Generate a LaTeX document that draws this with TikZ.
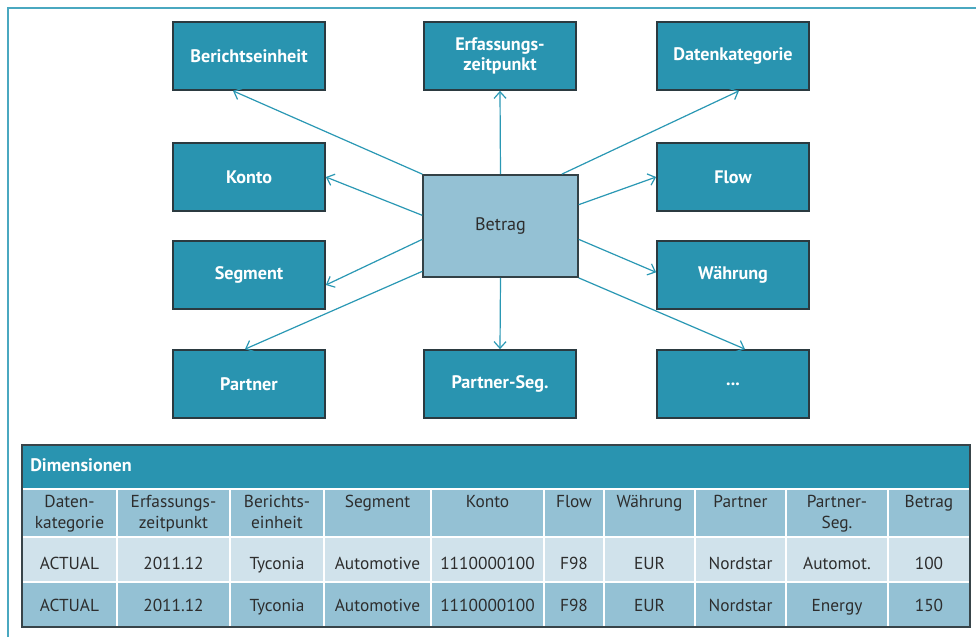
\documentclass[tikz,border=0pt]{standalone}
\usepackage{fontspec}
\setmainfont{PT Sans}
\usetikzlibrary{arrows.meta}
\definecolor{dteal}{HTML}{2994B0}
\definecolor{lteal}{HTML}{94C1D4}
\definecolor{pteal}{HTML}{D0E2EB}
\definecolor{framec}{HTML}{4AA8C0}
\definecolor{edgec}{HTML}{2B3A40}
\definecolor{txt}{HTML}{2D2D2D}
\definecolor{conc}{HTML}{2A98B4}
\begin{document}
\begin{tikzpicture}[x=0.75pt,y=-0.75pt,
  dimbox/.style={draw=edgec, line width=1.3pt, fill=dteal, text=white,
    font=\fontsize{13.6}{15.5}\selectfont\bfseries, minimum width=114pt,
    minimum height=51pt, inner sep=0pt, align=center},
  betragbox/.style={draw=edgec!90!gray, line width=1.3pt, fill=lteal, text=txt,
    font=\fontsize{13.6}{15.5}\selectfont, minimum width=116pt,
    minimum height=76.5pt, inner sep=0pt},
  conn/.style={draw=conc, line width=0.9pt, -{Straight Barb[length=5pt,width=9pt,line width=0.9pt]}},
  cell/.style={draw=white, line width=1.5pt},
  ctext/.style={text=txt, font=\fontsize{13}{15.5}\selectfont, align=center, inner sep=0pt},
]
\useasboundingbox (0,0) rectangle (976,637);
\fill[white] (0,0) rectangle (976,637);
% outer frame
\draw[framec, line width=1.6pt] (8,637) -- (8,8) -- (976,8);

% dimension boxes
\node[dimbox] (bericht) at (249,56) {Berichtseinheit};
\node[dimbox] (erf) at (500,56) {Erfassungs-\\[-1pt]zeitpunkt};
\node[dimbox] (daten) at (733,56) {Datenkategorie};
\node[dimbox] (konto) at (249,177) {Konto};
\node[dimbox] (flow) at (733,177) {Flow};
\node[dimbox] (segment) at (249,275) {Segment};
\node[dimbox] (waehr) at (733,275) {Währung};
\node[dimbox] (partner) at (249,384) {Partner};
\node[dimbox] (pseg) at (500,384) {Partner-Seg.};
\node[dimbox] (dots) at (733,384) {...};
\node[betragbox] (betrag) at (500.5,226) {Betrag};

% connectors
\draw[conn] (betrag.north west) -- ([xshift=-12pt]bericht.south);
\draw[conn] (betrag.north) -- (erf.south);
\draw[conn] ([xshift=46pt]betrag.north) -- ([xshift=4.5pt]daten.south);
\draw[conn] ([yshift=8pt]betrag.west) -- (konto.east);
\draw[conn] ([yshift=16pt]betrag.east) -- (flow.west);
\draw[conn] ([yshift=-10pt]betrag.west) -- ([yshift=-7.5pt]segment.east);
\draw[conn] ([yshift=-10pt]betrag.east) -- ([yshift=2pt]waehr.west);
\draw[conn] ([yshift=-34pt]betrag.west) -- ([xshift=-3pt]partner.north);
\draw[conn] (betrag.south) -- (pseg.north);
\draw[conn] (betrag.south east) -- ([xshift=9pt]dots.north);

% table
\fill[dteal] (22,445) rectangle (970,489);
\node[anchor=west, text=white, font=\fontsize{13.6}{15.5}\selectfont\bfseries, inner sep=0pt] (dimtitle) at (30,465) {Dimensionen};
\foreach \a/\b [count=\i] in {22/117,117/230,230/324,324/431,431/544,544/604,604/695,695/786,786/888,888/970}{
  \draw[cell, fill=lteal] (\a,489) rectangle (\b,537);
  \draw[cell, fill=pteal] (\a,537) rectangle (\b,582);
  \draw[cell, fill=lteal] (\a,582) rectangle (\b,627);
}
\draw[edgec!85!gray, line width=1.2pt] (22,445) rectangle (970,627);

\foreach \x/\h/\ra/\rb [count=\i] in {
  69.5/{Daten-\\kategorie}/ACTUAL/ACTUAL,
  173.5/{Erfassungs-\\zeitpunkt}/2011.12/2011.12,
  277/{Berichts-\\einheit}/Tyconia/Tyconia,
  377.5/{Segment}/Automotive/Automotive,
  487.5/{Konto}/1110000100/1110000100,
  574/{Flow}/F98/F98,
  649.5/{Währung}/EUR/EUR,
  740.5/{Partner}/Nordstar/Nordstar,
  837/{Partner-\\Seg.}/Automot./Energy,
  929/{Betrag}/100/150}{
  \node[ctext, anchor=north] (h\i) at (\x,495) {\h};
  \node[ctext, anchor=base] (ra\i) at (\x,569) {\ra};
  \node[ctext, anchor=base] (rb\i) at (\x,611) {\rb};
}
\end{tikzpicture}
\end{document}
